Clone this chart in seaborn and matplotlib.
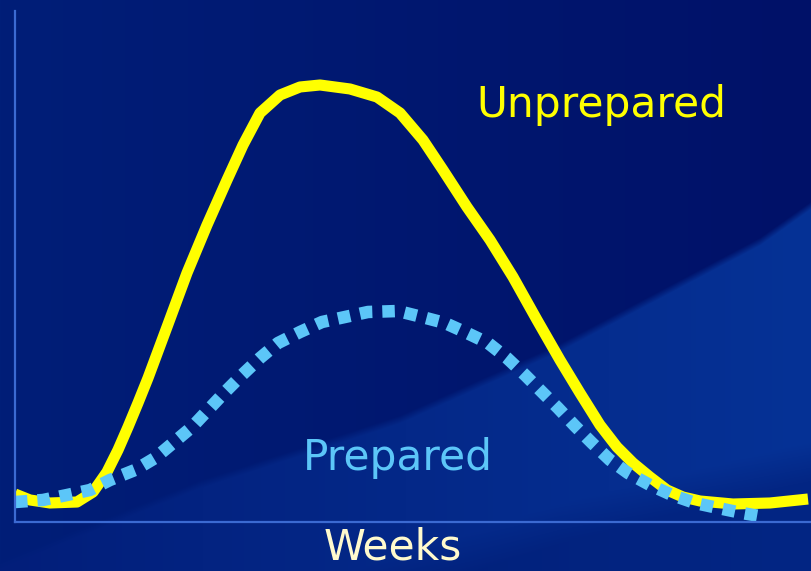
import numpy as np
import pandas as pd
import matplotlib
matplotlib.use("Agg")
from matplotlib import pyplot as plt
import seaborn as sns

# values (x = time in weeks on a 0-100 scale, y = cases on a 0-100 scale)
unprep_x = [0.00, 1.88, 4.39, 7.78, 9.79, 11.54, 12.92, 14.18, 15.43, 16.69, 19.07, 21.58,
            24.09, 26.60, 28.61, 30.74, 33.25, 35.76, 38.27, 42.03, 45.42, 48.31, 51.19,
            53.70, 56.71, 59.60, 62.48, 65.50, 68.38, 70.89, 73.40, 75.53, 77.54, 79.67,
            81.81, 83.81, 85.95, 90.09, 94.73, 99.50]
unprep_y = [5.48, 4.31, 3.72, 3.91, 5.87, 9.78, 14.09, 18.59, 23.29, 28.18, 38.16, 48.73,
            58.12, 66.93, 73.78, 80.04, 83.56, 85.13, 85.52, 84.74, 83.17, 80.04, 74.76,
            68.88, 61.64, 55.19, 47.95, 39.53, 31.70, 25.24, 18.98, 14.68, 11.55, 8.81,
            6.26, 4.89, 4.11, 3.52, 3.72, 4.50]

prep_x = [0.00, 3.51, 6.52, 9.41, 11.92, 15.06, 17.57, 19.82, 22.21, 24.22, 26.35, 28.48,
          30.74, 33.00, 35.76, 38.52, 41.41, 44.29, 48.06, 51.07, 53.95, 56.71, 59.35,
          61.73, 63.99, 66.12, 68.13, 70.26, 72.40, 74.65, 76.91, 79.67, 82.43, 85.32,
          88.21, 91.22, 94.10]
prep_y = [3.91, 4.31, 5.28, 6.26, 8.22, 10.18, 12.52, 15.46, 18.59, 21.92, 25.44, 28.77,
          32.09, 35.03, 37.18, 39.14, 40.12, 41.10, 41.29, 40.12, 38.94, 36.99, 35.03,
          32.09, 28.77, 25.44, 22.31, 18.79, 15.46, 12.13, 9.59, 7.24, 5.28, 3.72,
          2.74, 1.76, 0.98]

W, H = 812, 571
fig = plt.figure(figsize=(W / 100, H / 100), dpi=100)

# slide-style background: dark blue with a lighter swoosh at the bottom right
yy, xx = np.mgrid[0:H, 0:W].astype(float)
u = (xx / W)[..., None]
top = (np.array([0, 30, 120]) * (1 - u) + np.array([0, 17, 104]) * u) / 255
up = np.interp(xx, [0, 200, 400, 560, 660, 760, 812], [560, 480, 415, 343, 290, 237, 200])
low = np.interp(xx, [0, 350, 560, 812], [680, 571, 503, 440])
e1 = np.clip((yy - up) / 8, 0, 1)[..., None]
e2 = np.clip((yy - low) / 40, 0, 1)[..., None]
band = (np.array([2, 30, 122]) * (1 - u) + np.array([6, 50, 150]) * u) / 255
under = (np.array([0, 28, 116]) * (1 - u) + np.array([3, 38, 132]) * u) / 255
img = top * (1 - e1) + (band * (1 - e2) + under * e2) * e1
bg = fig.add_axes([0, 0, 1, 1], zorder=-1)
bg.imshow(img, aspect="auto")
bg.axis("off")

ax = fig.add_axes([15 / W, 49 / H, (W - 15) / W, (522 - 11) / H])
ax.set_facecolor("none")

sns.lineplot(x=unprep_x, y=unprep_y, ax=ax, color="#ffff00", linewidth=8,
             solid_joinstyle="round", solid_capstyle="butt", sort=False)
sns.lineplot(x=prep_x, y=prep_y, ax=ax, color="#5cc6f8", linewidth=9,
             linestyle=(0, (1.0, 0.8)), dash_capstyle="butt", sort=False)

ax.set_xlim(0, 100)
ax.set_ylim(0, 100)
ax.set_xticks([])
ax.set_yticks([])
ax.set_xlabel("")
ax.set_ylabel("")
for s in ["top", "right"]:
    ax.spines[s].set_visible(False)
for s in ["left", "bottom"]:
    ax.spines[s].set_color("#3b6ad2")
    ax.spines[s].set_linewidth(1.6)

fig.text(601 / W, 1 - 105 / H, "Unprepared", color="#ffff00", fontsize=30.5,
         ha="center", va="center")
fig.text(398 / W, 1 - 458 / H, "Prepared", color="#5cc6f8", fontsize=30.5,
         ha="center", va="center")
fig.text(393 / W, 1 - 548 / H, "Weeks", color="#fffacd", fontsize=30.5,
         ha="center", va="center")

fig.savefig("out.png", dpi=100)
